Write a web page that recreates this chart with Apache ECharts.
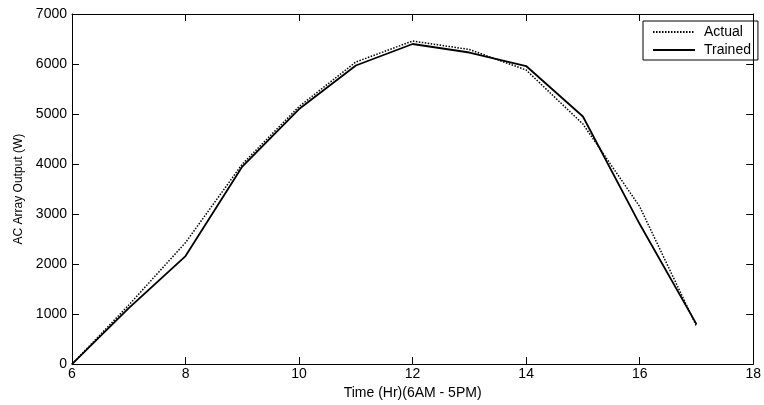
<!DOCTYPE html>
<html>
<head>
<meta charset="utf-8">
<script src="https://cdn.jsdelivr.net/npm/echarts@6/dist/echarts.min.js"></script>
<style>
html,body{margin:0;padding:0;background:#fff;}
#c{width:764px;height:405px;}
</style>
</head>
<body>
<div id="c"></div>
<script>
const hours = [6, 7, 8, 9, 10, 11, 12, 13, 14, 15, 16, 17];
const actual = [0, 1180, 2430, 4000, 5150, 6040, 6460, 6290, 5880, 4800, 3150, 760];
const trained = [0, 1120, 2160, 3950, 5100, 5970, 6400, 6230, 5960, 4950, 2800, 800];
const xTicks = [6, 8, 10, 12, 14, 16, 18];
const yTicks = [0, 1000, 2000, 3000, 4000, 5000, 6000, 7000];

const font = 'Liberation Sans, Arial, sans-serif';
const chart = echarts.init(document.getElementById('c'), null, {renderer: 'canvas'});
const axisLine = {show: true, onZero: false, lineStyle: {color: '#000', width: 1}};
const tick = {show: true, inside: true, length: 7, lineStyle: {color: '#000', width: 1}};

chart.setOption({
  backgroundColor: '#fff',
  animation: false,
  textStyle: {fontFamily: font},
  grid: {left: 72, right: 2, top: 14, bottom: 38, containLabel: false},
  legend: {
    orient: 'vertical',
    left: 643, top: 21,
    borderColor: '#000', borderWidth: 1, borderRadius: 0,
    padding: [4, 7, 3, 9],
    itemWidth: 42, itemHeight: 14, itemGap: 4,
    align: 'left',
    itemStyle: {color: 'rgba(0,0,0,0)', borderWidth: 0, opacity: 0},
    textStyle: {fontSize: 14, color: '#000', fontFamily: font, padding: [0, 0, 0, 4]},
    data: ['Actual', 'Trained']
  },
  xAxis: [{
    type: 'value', min: xTicks[0], max: xTicks[xTicks.length - 1], interval: 2,
    position: 'bottom',
    axisLine: axisLine, axisTick: tick, splitLine: {show: false},
    axisLabel: {fontSize: 14, color: '#000', margin: 3, fontFamily: font},
    name: 'Time (Hr)(6AM - 5PM)', nameLocation: 'middle', nameGap: 18,
    nameTextStyle: {fontSize: 14, color: '#000', fontFamily: font}
  }, {
    type: 'value', min: xTicks[0], max: xTicks[xTicks.length - 1], interval: 2,
    position: 'top',
    axisLine: axisLine, axisTick: tick, splitLine: {show: false},
    axisLabel: {show: false}
  }],
  yAxis: [{
    type: 'value', min: yTicks[0], max: yTicks[yTicks.length - 1], interval: 1000,
    position: 'left',
    axisLine: axisLine, axisTick: tick, splitLine: {show: false},
    axisLabel: {fontSize: 14, color: '#000', margin: 5, fontFamily: font, formatter: v => String(v)},
    name: 'AC Array Output (W)', nameLocation: 'middle', nameGap: 42, nameRotate: 90,
    nameTextStyle: {fontSize: 12, color: '#000', fontFamily: font}
  }, {
    type: 'value', min: yTicks[0], max: yTicks[yTicks.length - 1], interval: 1000,
    position: 'right',
    axisLine: axisLine, axisTick: tick, splitLine: {show: false},
    axisLabel: {show: false}
  }],
  series: [{
    name: 'Actual', type: 'line', xAxisIndex: 0, yAxisIndex: 0,
    data: hours.map((h, i) => [h, actual[i]]),
    symbol: 'none',
    lineStyle: {color: '#000', width: 1.5, type: [1.5, 1.5]},
    itemStyle: {color: '#000'}
  }, {
    name: 'Trained', type: 'line', xAxisIndex: 0, yAxisIndex: 0,
    data: hours.map((h, i) => [h, trained[i]]),
    symbol: 'none',
    lineStyle: {color: '#000', width: 1.8, type: 'solid'},
    itemStyle: {color: '#000'}
  }]
});
</script>
</body>
</html>
